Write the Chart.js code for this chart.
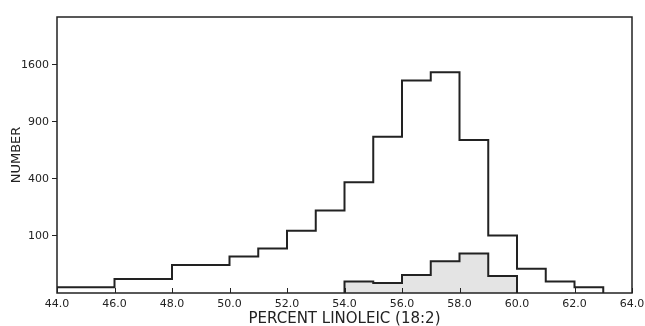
<!DOCTYPE html>
<html>
<head>
<meta charset="utf-8">
<script src="https://cdn.jsdelivr.net/npm/chart.js@4"></script>
<style>
  html, body { margin:0; padding:0; background:#fff; }
  #wrap { width:645px; height:326px; }
</style>
</head>
<body>
<div id="wrap"><canvas id="histChart"></canvas></div>
<script>
// bin edges (percent linoleic) and counts
const allEdges = [44, 46, 48, 50, 51, 52, 53, 54, 55, 56, 57, 58, 59, 60, 61, 62, 63];
const allCounts = [1, 6, 24, 41, 61, 119, 209, 377, 750, 1390, 1500, 720, 102, 18, 4, 1];

const shadedEdges = [54, 55, 56, 57, 58, 59, 60];
const shadedCounts = [4, 3, 10, 31, 48, 9];

const xTicks = [44, 46, 48, 50, 52, 54, 56, 58, 60, 62, 64];
const yTicks = [100, 400, 900, 1600];

const INK = "#222";

// y axis is square-root scaled: plot sqrt(count) on a linear axis.
// point i sits at the right edge of bin i-1 so that stepped:"before"
// draws each bin flat across its width
function stepPoints(edges, counts){
    const pts = [{ x: edges[0], y: 0 }];
    for (let i = 0; i < counts.length; i++){
        pts.push({ x: edges[i], y: Math.sqrt(counts[i]) });
        pts.push({ x: edges[i + 1], y: Math.sqrt(counts[i]) });
    }
    pts.push({ x: edges[edges.length - 1], y: 0 });
    return pts;
}

// frame round the plot + inward ticks on the x axis
const framePlugin = {
    id: "frame",
    afterDatasetsDraw(chart){
        const { ctx, chartArea: a, scales } = chart;
        ctx.save();
        ctx.strokeStyle = INK;
        ctx.lineWidth = 1.5;
        ctx.strokeRect(a.left, a.top, a.right - a.left, a.bottom - a.top);
        ctx.lineWidth = 1;
        xTicks.forEach(v => {
            const px = Math.round(scales.x.getPixelForValue(v)) + 0.5;
            ctx.beginPath();
            ctx.moveTo(px, a.bottom);
            ctx.lineTo(px, a.bottom - 5);
            ctx.stroke();
        });
        ctx.restore();
    }
};

new Chart(document.getElementById("histChart"), {
    type: "line",
    data: {
        datasets: [
            {
                data: stepPoints(shadedEdges, shadedCounts),
                borderColor: INK,
                borderWidth: 2,
                backgroundColor: "#e4e4e4",
                fill: "origin",
                pointRadius: 0,
                tension: 0
            },
            {
                data: stepPoints(allEdges, allCounts),
                borderColor: INK,
                borderWidth: 2,
                fill: false,
                pointRadius: 0,
                tension: 0
            }
        ]
    },
    options: {
        responsive: true,
        maintainAspectRatio: false,
        animation: false,
        layout: { padding: { top: 17, right: 13, left: 0, bottom: 0 } },
        plugins: { legend: { display: false }, tooltip: { enabled: false } },
        scales: {
            x: {
                type: "linear",
                min: 44,
                max: 64,
                afterFit: s => { s.height = 33; s.paddingLeft = 0; s.paddingRight = 0; },
                afterBuildTicks: s => { s.ticks = xTicks.map(v => ({ value: v })); },
                grid: { display: false, drawTicks: false },
                border: { display: false },
                ticks: {
                    padding: 5,
                    maxRotation: 0,
                    color: INK,
                    font: { family: "DejaVu Sans", size: 11 },
                    callback: v => v.toFixed(1)
                },
                title: {
                    display: true,
                    text: "PERCENT LINOLEIC (18:2)",
                    color: INK,
                    padding: 0,
                    font: { family: "DejaVu Sans", size: 15, lineHeight: 0.9 }
                }
            },
            y: {
                type: "linear",
                min: 0,
                max: 48.4,
                afterFit: s => { s.width = 57; },
                afterBuildTicks: s => { s.ticks = yTicks.map(v => ({ value: Math.sqrt(v) })); },
                grid: { drawOnChartArea: false, drawTicks: true, tickLength: 5, color: INK },
                border: { display: false },
                ticks: {
                    padding: 3,
                    color: INK,
                    font: { family: "DejaVu Sans", size: 11 },
                    callback: v => String(Math.round(v * v))
                },
                title: {
                    display: true,
                    text: "NUMBER",
                    color: INK,
                    padding: { top: 10, bottom: 0 },
                    font: { family: "DejaVu Sans", size: 13, lineHeight: 1 }
                }
            }
        }
    },
    plugins: [framePlugin]
});
</script>
</body>
</html>
